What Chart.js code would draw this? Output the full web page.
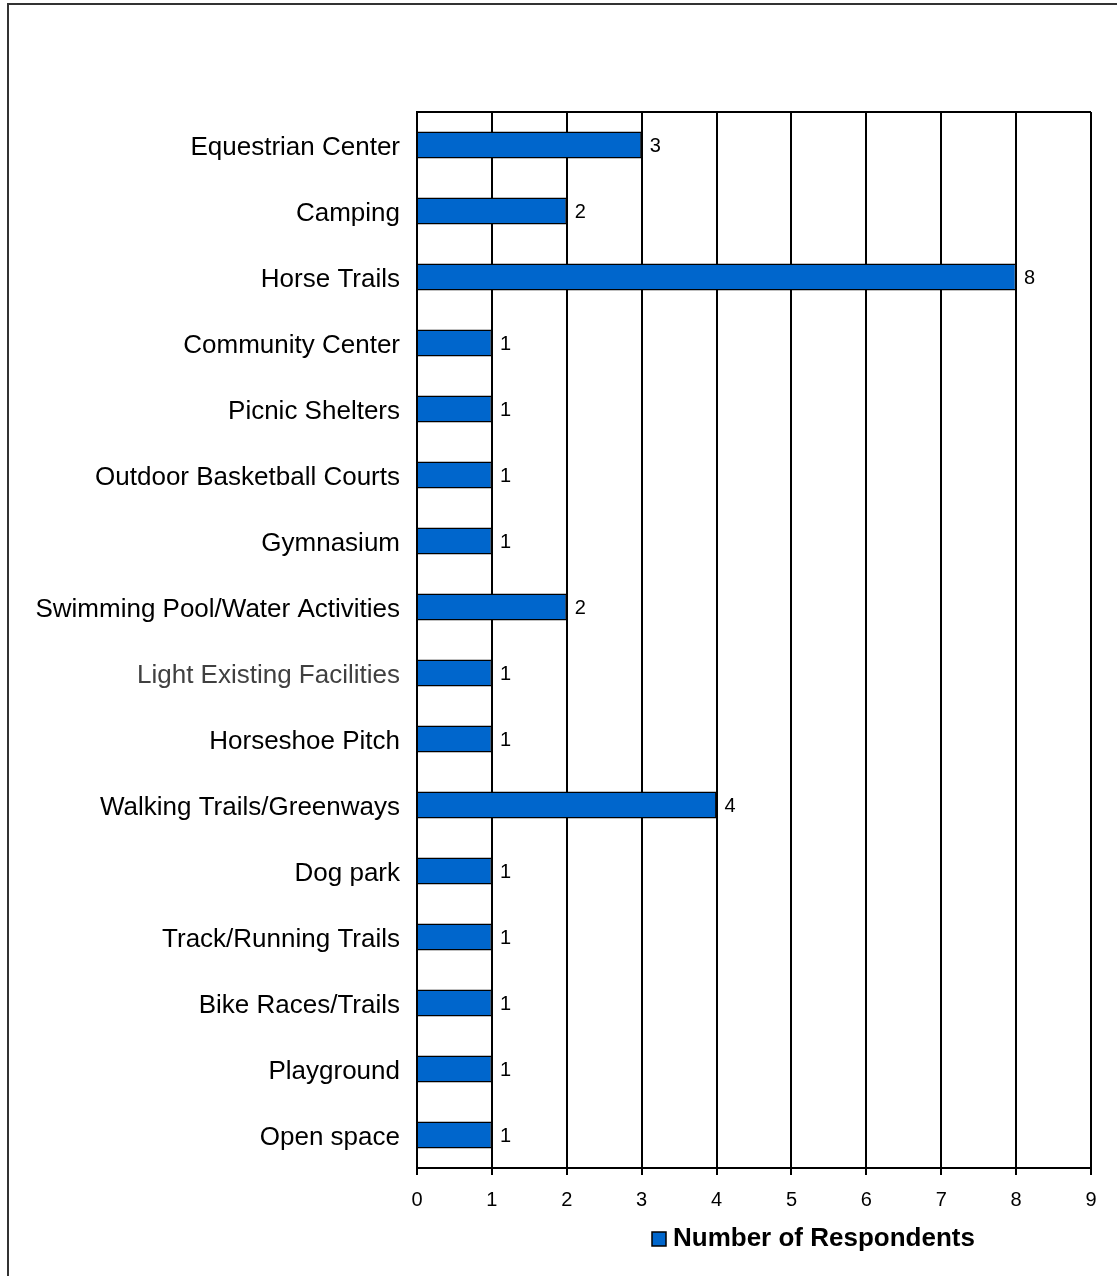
<!DOCTYPE html>
<html>
<head>
<meta charset="utf-8">
<script src="https://cdn.jsdelivr.net/npm/chart.js@4"></script>
<style>
  html, body { margin: 0; padding: 0; background: #fff; overflow: hidden; }
  #wrap { width: 1117px; height: 1276px; }
</style>
</head>
<body>
<div id="wrap"><canvas id="chart" width="1117" height="1276"></canvas></div>
<script>
const categories = [
  "Equestrian Center", "Camping", "Horse Trails", "Community Center",
  "Picnic Shelters", "Outdoor Basketball Courts", "Gymnasium",
  "Swimming Pool/Water Activities", "Light Existing Facilities",
  "Horseshoe Pitch", "Walking Trails/Greenways", "Dog park",
  "Track/Running Trails", "Bike Races/Trails", "Playground", "Open space"
];
const respondents = [3, 2, 8, 1, 1, 1, 1, 2, 1, 1, 4, 1, 1, 1, 1, 1];
const xTicks = [0, 1, 2, 3, 4, 5, 6, 7, 8, 9];
const seriesName = "Number of Respondents";

const FONT = "'Liberation Sans', Arial, sans-serif";
const BLUE = "#0066CC";

// ===== PLUGINS =====
const frame = {
  id: "frame",
  beforeDraw(chart) {
    const c = chart.ctx;
    c.save();
    c.strokeStyle = "#333";
    c.lineWidth = 2;
    c.strokeRect(8, 4, 2000, 2000);
    c.restore();
  }
};

const valueLabels = {
  id: "valueLabels",
  afterDatasetsDraw(chart) {
    const c = chart.ctx;
    const meta = chart.getDatasetMeta(0);
    c.save();
    c.font = "20px " + FONT;
    c.fillStyle = "#000";
    c.textAlign = "left";
    c.textBaseline = "middle";
    meta.data.forEach((bar, i) => {
      c.fillText(String(respondents[i]), bar.x + 8, bar.y + 1);
    });
    c.restore();
  }
};

const legendBox = {
  id: "legendBox",
  afterDraw(chart) {
    const c = chart.ctx;
    const ds = chart.data.datasets[0];
    c.save();
    c.fillStyle = ds.backgroundColor;
    c.fillRect(652, 1232, 14, 14);
    c.strokeStyle = "#000";
    c.lineWidth = 1.5;
    c.strokeRect(652, 1232, 14, 14);
    c.font = "bold 26px " + FONT;
    c.fillStyle = "#000";
    c.textBaseline = "middle";
    c.fillText(ds.label, 673, 1239);
    c.restore();
  }
};

new Chart(document.getElementById("chart"), {
  type: "bar",
  data: {
    labels: categories,
    datasets: [{
      label: seriesName,
      data: respondents,
      backgroundColor: BLUE,
      borderColor: "#000",
      borderWidth: 1.5,
      barPercentage: 0.41,
      categoryPercentage: 1
    }]
  },
  options: {
    indexAxis: "y",
    responsive: false,
    animation: false,
    layout: { padding: { top: 112, right: 26, left: 0, bottom: 0 } },
    plugins: {
      legend: { display: false },
      tooltip: { enabled: false }
    },
    scales: {
      x: {
        min: 0,
        max: 9,
        afterBuildTicks: s => { s.ticks = xTicks.map(v => ({ value: v })); },
        afterFit: s => { s.height = 108; },
        grid: {
          color: "#000",
          lineWidth: 2,
          tickLength: 7,
          drawTicks: true
        },
        border: { color: "#000", width: 2 },
        ticks: {
          color: "#000",
          font: { family: FONT, size: 20 },
          padding: 13
        }
      },
      y: {
        afterFit: s => { s.width = 417; },
        grid: {
          drawTicks: false,
          lineWidth: 2,
          color: ctx => ctx.index === 0 ? "#000" : "rgba(0,0,0,0)"
        },
        border: { color: "#000", width: 2 },
        ticks: {
          padding: 17,
          labelOffset: 3,
          font: { family: FONT, size: 26 },
          color: ctx => categories[ctx.index] === "Light Existing Facilities" ? "#404040" : "#000"
        }
      }
    }
  },
  plugins: [frame, valueLabels, legendBox]
});
</script>
</body>
</html>
